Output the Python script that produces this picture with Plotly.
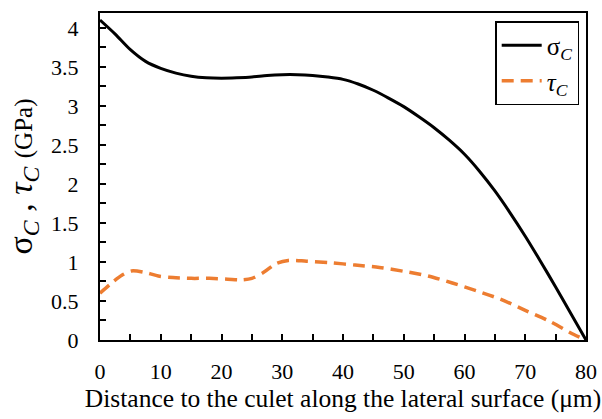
import plotly.graph_objects as go

sigma_x = [0, 2.5, 5, 7.5, 10, 12.5, 15, 17.5, 20, 22.5, 25, 27.5, 30, 32.5, 35, 37.5, 40,
           42.5, 45, 47.5, 50, 52.5, 55, 57.5, 60, 62.5, 65, 67.5, 70, 72.5, 75, 77.5, 80]
sigma_y = [4.10, 3.92, 3.72, 3.57, 3.48, 3.42, 3.38, 3.36, 3.355, 3.36, 3.37, 3.39, 3.40, 3.40, 3.39, 3.37, 3.34,
           3.28, 3.20, 3.10, 2.99, 2.86, 2.72, 2.56, 2.38, 2.16, 1.91, 1.63, 1.33, 1.01, 0.68, 0.34, 0.0]

tau_x = [0, 1.6, 3.6, 5.2, 7.7, 9.6, 12, 15, 18, 21, 23, 25, 27, 29, 31, 34, 38, 42, 46, 50, 54, 58, 62, 66, 70, 74, 78, 80]
tau_y = [0.60, 0.71, 0.83, 0.885, 0.86, 0.82, 0.80, 0.79, 0.79, 0.78, 0.77, 0.79, 0.87, 0.98, 1.02, 1.01, 0.99, 0.96, 0.93, 0.88, 0.82, 0.73, 0.63, 0.52, 0.38, 0.24, 0.07, 0.0]

x_ticks = [0, 10, 20, 30, 40, 50, 60, 70, 80]
y_ticks = [0, 0.5, 1, 1.5, 2, 2.5, 3, 3.5, 4]
y_labels = ["0", "0.5", "1", "1.5", "2", "2.5", "3", "3.5", "4"]

SERIF = "Liberation Serif"

fig = go.Figure()
fig.add_trace(go.Scatter(
    x=sigma_x, y=sigma_y, mode="lines", line=dict(color="black", width=3, shape="spline", smoothing=0.8),
    name="σ<sub><i>C</i></sub>"))
fig.add_trace(go.Scatter(
    x=tau_x, y=tau_y, mode="lines", line=dict(color="#ED7D31", width=3.5, dash="12px,7px", shape="spline", smoothing=0.8),
    name="<i>τ</i><sub><i>C</i></sub>"))

fig.update_layout(
    width=602, height=419,
    margin=dict(l=100, r=16, t=13, b=79),
    plot_bgcolor="white", paper_bgcolor="white",
    font=dict(family=SERIF, size=22, color="black"),
    showlegend=True,
    legend=dict(x=0.986, y=0.9755, xanchor="right", yanchor="top",
                bordercolor="black", borderwidth=1.5, bgcolor="white",
                font=dict(family=SERIF, size=25, color="black"),
                tracegroupgap=0, itemwidth=40),
    xaxis=dict(range=[0, 80], tickvals=x_ticks, ticktext=[str(v) for v in x_ticks],
               ticks="inside", ticklen=6, tickwidth=1.5, tickcolor="black",
               minor=dict(dtick=5, ticks="inside", ticklen=6, tickwidth=1.5, tickcolor="black"),
               showline=True, linecolor="black", linewidth=2, mirror=True,
               showgrid=False, zeroline=False, ticklabelstandoff=11, automargin=False,
               tickfont=dict(family=SERIF, size=22),
               title=dict(text="Distance to the culet along the lateral surface (μm)",
                          font=dict(family=SERIF, size=25.5), standoff=0)),
    yaxis=dict(range=[0, 4.19], tickvals=y_ticks, ticktext=y_labels,
               ticks="inside", ticklen=6, tickwidth=1.5, tickcolor="black",
               minor=dict(dtick=0.25, ticks="inside", ticklen=6, tickwidth=1.5, tickcolor="black"),
               showline=True, linecolor="black", linewidth=2, mirror=True,
               showgrid=False, zeroline=False, ticklabelstandoff=15, automargin=False,
               tickfont=dict(family=SERIF, size=22),
               title=dict(text="σ<sub><i>C</i></sub> , <i>τ</i><sub><i>C</i></sub> <span style='font-size:25px'>(GPa)</span>",
                          font=dict(family=SERIF, size=34), standoff=8)),
)

fig.write_html("out.html")
